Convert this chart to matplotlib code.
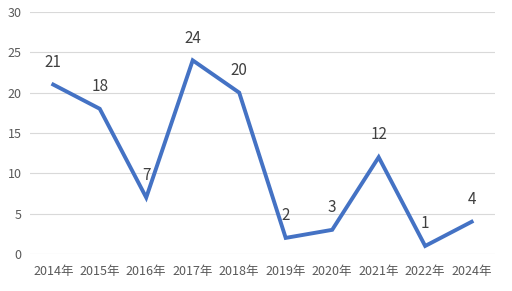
import matplotlib
matplotlib.use("Agg")
import matplotlib.pyplot as plt

plt.rcParams['font.family'] = ['Noto Sans CJK SC', 'DejaVu Sans']

years = ["2014年", "2015年", "2016年", "2017年", "2018年", "2019年", "2020年", "2021年", "2022年", "2024年"]
values = [21, 18, 7, 24, 20, 2, 3, 12, 1, 4]

fig = plt.figure(figsize=(5.12, 2.91), dpi=100)
ax = fig.add_axes([0.0586, 0.127, 0.908, 0.832])

x = list(range(len(years)))
ax.plot(x, values, color="#4472C4", linewidth=2.8, solid_joinstyle="miter", zorder=3)
for xi, v in zip(x, values):
    ax.annotate(str(v), (xi, v), xytext=(0, 16), textcoords="offset points",
                ha="center", va="center", fontsize=11, color="#404040")

ax.set_xlim(-0.5, len(years) - 0.5)
ax.set_ylim(0, 30)
ax.set_yticks(range(0, 31, 5))
ax.set_xticks(x)
ax.set_xticklabels(years)
ax.grid(axis="y", color="#D9D9D9", linewidth=0.8)
ax.set_axisbelow(True)
for s in ax.spines.values():
    s.set_visible(False)
ax.tick_params(axis="both", length=0, colors="#595959", labelsize=9)
ax.tick_params(axis="y", pad=6)
ax.tick_params(axis="x", pad=8)

fig.savefig("out.png", dpi=100)
